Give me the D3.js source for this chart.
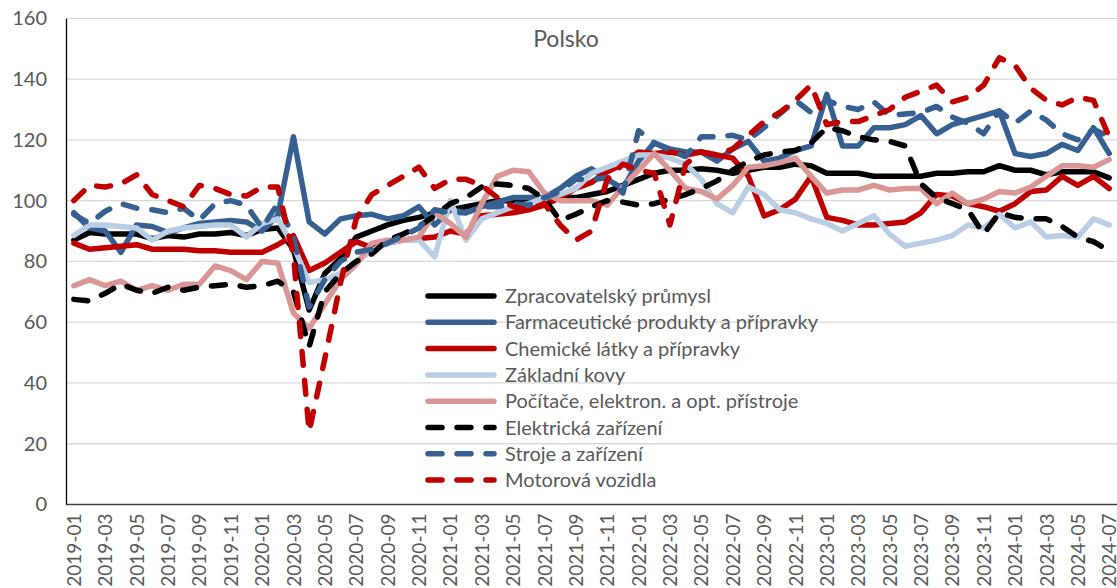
<!DOCTYPE html>
<html>
<head>
<meta charset="utf-8">
<style>
	body{margin:0;background:#fff;}
	svg{display:block;font-family:Lato, "Open Sans", sans-serif;}
</style>
</head>
<body>
<script src="https://cdn.jsdelivr.net/npm/d3@7"></script>
<script>
var width = 1117, height = 588;

var months = ["2019-01","2019-02","2019-03","2019-04","2019-05","2019-06","2019-07","2019-08","2019-09","2019-10","2019-11","2019-12",
	"2020-01","2020-02","2020-03","2020-04","2020-05","2020-06","2020-07","2020-08","2020-09","2020-10","2020-11","2020-12",
	"2021-01","2021-02","2021-03","2021-04","2021-05","2021-06","2021-07","2021-08","2021-09","2021-10","2021-11","2021-12",
	"2022-01","2022-02","2022-03","2022-04","2022-05","2022-06","2022-07","2022-08","2022-09","2022-10","2022-11","2022-12",
	"2023-01","2023-02","2023-03","2023-04","2023-05","2023-06","2023-07","2023-08","2023-09","2023-10","2023-11","2023-12",
	"2024-01","2024-02","2024-03","2024-04","2024-05","2024-06","2024-07"];
var tickMonths = months.filter((d, i) => i % 2 == 0);
var yTicks = [0, 20, 40, 60, 80, 100, 120, 140, 160];

var zpracovatelsky = [87, 89.5, 89, 89, 89, 87.5, 88.5, 88, 89, 89, 89.5, 88.5,
	90.5, 91, 84, 64, 76, 81, 88, 90, 92, 93.5, 94.5, 96,
	97, 98, 99, 100, 100, 100.5, 101, 101, 101, 102, 103, 105,
	107, 109, 110, 110, 110.5, 110, 109, 110, 111, 111, 112, 111.5,
	109, 109, 109, 108, 108, 108, 108, 109, 109, 109.5, 109.5, 111.5,
	110, 110, 108.5, 109.5, 109.5, 109.5, 107.5];
var farmaceuticke = [96, 91, 90, 83, 92, 91.5, 89.5, 91, 92.5, 93, 93.5, 93,
	90, 95, 121, 93, 89, 94, 95, 95.5, 94, 95, 98, 92,
	97, 96, 98, 99.5, 101, 101, 101, 104, 108, 110.5, 107, 104,
	113, 119, 117, 116, 116, 113, 117, 119.5, 113, 114, 116.5, 118,
	135, 118, 118, 124, 124, 125, 128, 122, 125, 126.5, 128, 129.5,
	115.5, 114.5, 115.5, 118.5, 116.5, 124, 115.5];
var chemicke = [86, 84, 84.5, 85, 85.5, 84, 84, 84, 83.5, 83.5, 83, 83,
	83, 85.5, 88.5, 77, 79.5, 83, 86.5, 84.5, 86, 87, 87.5, 88,
	90, 89, 95, 95.5, 96, 97, 98.5, 101, 104, 106, 109.5, 112,
	116, 115.5, 116, 115, 116, 115, 114, 108, 95, 97, 100.5, 108,
	94.5, 93.5, 92, 92, 92.5, 93, 96, 102, 101.5, 99, 98, 96.5,
	99, 103, 103.5, 108, 105, 108, 104];
var zakladniKovy = [88.5, 92, 92, 91.5, 91, 87, 90, 91, 91.5, 92, 92, 88,
	92.5, 94, 85, 73, 74, 76, 80, 83.5, 86, 87, 87, 81.5,
	100, 87, 94, 96, 98, 99, 101, 102, 104, 109, 111, 113,
	115, 115, 114, 112, 107, 99, 96, 104.5, 102, 97, 96, 94,
	92.5, 90, 92.5, 95, 89, 85, 86, 87, 88.5, 92, 91, 95.5,
	91, 93, 88, 88.5, 88, 94, 92];
var pocitace = [72, 74, 72, 73.5, 70.5, 72, 70.5, 72.5, 72.5, 78.5, 77, 74,
	80, 79.5, 63, 58, 66, 74, 79, 86, 87, 87, 88, 96,
	92.5, 88, 99, 108, 110, 109.5, 102.5, 100, 100, 100, 98.5, 104.5,
	110, 115.5, 110, 104, 103, 100.5, 105, 111, 111.5, 112.5, 114, 108,
	102.5, 103.5, 103.5, 105, 103.5, 104, 104, 99, 102.5, 99, 100.5, 103,
	102.5, 104.5, 108, 111.5, 111.5, 111, 113.5];
var elektricka = [67.5, 67, 69.5, 72.5, 70.5, 69.5, 71.5, 70.5, 71.5, 72, 72.5, 71.5,
	72, 73.5, 70, 52, 70, 76, 80, 82.5, 87, 89, 91.5, 95,
	99, 101, 104.5, 105.5, 105, 104, 100.5, 93.5, 95.5, 98, 100, 99.5,
	98.5, 99, 100.5, 102, 104, 106.5, 110, 113, 115, 116, 116.5, 119,
	124, 123, 121, 120, 119.5, 118, 105.5, 101, 99, 97, 89, 96,
	94.5, 94, 94, 91.5, 88, 86.5, 83.5];
var stroje = [95.5, 92.5, 96.5, 99, 97.5, 97, 96, 97.5, 93.5, 99, 100, 98.5,
	91, 99, 88, 65, 74, 80, 83, 84, 86, 88.5, 91, 97,
	96, 96, 98, 98, 99, 98.5, 101, 103, 107, 107, 107.5, 102.5,
	123, 119, 116.5, 114.5, 121, 121, 121.5, 120, 124, 128.5, 133, 129,
	133, 131, 130, 132.5, 128, 128.5, 129, 131, 127.5, 125.5, 122, 129.5,
	125.5, 129.5, 126.5, 122, 120, 123.5, 121];
var motorova = [100, 105, 104.5, 105.5, 108.5, 102, 100, 98, 105, 104, 102, 101.5,
	104.5, 104.5, 82, 24, 48, 73, 94, 102, 105, 108, 111, 104,
	107, 107, 105, 101, 98, 97, 99, 92, 87, 90, 107, 112,
	110, 109, 92, 112, 116, 115, 117, 121.5, 126, 129, 133, 138,
	125, 126, 126, 128, 130, 134, 136, 138, 132.5, 134, 138, 147,
	144.5, 137, 133, 131.5, 134, 133, 121];

var seriesNames = ["Zpracovatelský průmysl", "Farmaceutické produkty a přípravky", "Chemické látky a přípravky",
	"Základní kovy", "Počítače, elektron. a opt. přístroje", "Elektrická zařízení", "Stroje a zařízení", "Motorová vozidla"];
var seriesValues = [zpracovatelsky, farmaceuticke, chemicke, zakladniKovy, pocitace, elektricka, stroje, motorova];
var seriesColors = ["#000000", "#376092", "#c00000", "#b9cde5", "#d99694", "#000000", "#376092", "#c00000"];
var seriesDashed = [false, false, false, false, false, true, true, true];

var series = seriesNames.map((n, k) => ({name: n, values: seriesValues[k], color: seriesColors[k], dashed: seriesDashed[k]}));

var svg = d3.select("body")
	.append("svg")
	.attr("width", width)
	.attr("height", height);

var plotLeft = 66, plotRight = 1117, plotTop = 18.3, plotBottom = 504.5;

var xscale = d3.scalePoint()
	.domain(months)
	.range([plotLeft, plotRight])
	.padding(0.5);

var yscale = d3.scaleLinear()
	.domain([0, 160])
	.range([plotBottom, plotTop]);

// gridlines
svg.append("g")
	.selectAll("line")
	.data(yTicks.filter(d => d > 0))
	.enter()
	.append("line")
	.attr("x1", plotLeft).attr("x2", plotRight)
	.attr("y1", d => yscale(d)).attr("y2", d => yscale(d))
	.attr("stroke", "#d9d9d9")
	.attr("stroke-width", 1.3);

// y axis
var yAxis = svg.append("g")
	.attr("transform", `translate(${plotLeft},0)`)
	.call(d3.axisLeft(yscale).tickValues(yTicks).tickSize(0).tickPadding(19));
yAxis.select(".domain").attr("stroke", "#000").attr("stroke-width", 1.3);
yAxis.selectAll("text").attr("fill", "#595959").style("font-size", "20px").style("font-family", "Lato");

// x axis
var xAxis = svg.append("g")
	.attr("transform", `translate(0,${plotBottom})`)
	.call(d3.axisBottom(xscale).tickValues(tickMonths).tickSize(0));
xAxis.select(".domain").attr("stroke", "#404040").attr("stroke-width", 1.3).attr("d", `M${plotLeft},0H${plotRight}`);
xAxis.selectAll("text")
	.attr("fill", "#595959")
	.style("font-size", "19px")
	.style("font-family", "Lato")
	.attr("text-anchor", "end")
	.attr("transform", "rotate(-90)")
	.attr("x", -9)
	.attr("y", 0)
	.attr("dy", "0.35em");

// lines
var line = d3.line()
	.x((d, i) => xscale(months[i]))
	.y(d => yscale(d));

svg.append("g")
	.selectAll("path")
	.data(series)
	.enter()
	.append("path")
	.attr("d", d => line(d.values))
	.attr("fill", "none")
	.attr("stroke", d => d.color)
	.attr("stroke-width", 5.5)
	.attr("stroke-linejoin", "round")
	.attr("stroke-linecap", "round")
	.attr("stroke-dasharray", d => d.dashed ? "14 15" : null);

// title
svg.append("text")
	.attr("x", 566)
	.attr("y", 47)
	.attr("text-anchor", "middle")
	.attr("fill", "#595959")
	.style("font-size", "23px")
	.text("Polsko");

// legend
var legend = svg.append("g")
	.selectAll("g")
	.data(series)
	.enter()
	.append("g")
	.attr("transform", (d, i) => `translate(428,${296 + i * 26.3})`);
legend.append("line")
	.attr("x1", 0).attr("x2", 66)
	.attr("stroke", d => d.color)
	.attr("stroke-width", 5.5)
	.attr("stroke-linecap", "round")
	.attr("stroke-dasharray", d => d.dashed ? "14 15" : null);
legend.append("text")
	.attr("x", 77)
	.attr("dy", "0.35em")
	.attr("fill", "#595959")
	.style("font-size", "20px")
	.text(d => d.name);
</script>
</body>
</html>
